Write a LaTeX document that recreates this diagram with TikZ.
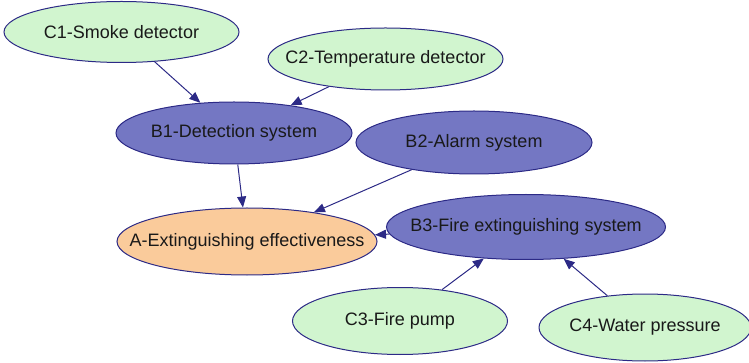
\documentclass[tikz,border=0pt]{standalone}
\usepackage{fontspec}
\setmainfont{Liberation Sans}
\usetikzlibrary{shapes.geometric,arrows.meta}
\definecolor{leafgreen}{HTML}{D1F5CF}
\definecolor{midblue}{HTML}{7477C3}
\definecolor{goalorange}{HTML}{FACB9B}
\definecolor{edgeblue}{HTML}{2C2A86}
\tikzset{
  factor/.style={ellipse, draw=edgeblue, line width=1pt, inner sep=0pt,
    label={[font=\fontsize{18}{20}\selectfont, text=black!90]center:#1}},
  leaf/.style={factor=#1, fill=leafgreen},
  sub/.style={factor=#1, fill=midblue},
  goal/.style={factor=#1, fill=goalorange},
  link/.style={draw=edgeblue, line width=1pt, -{Triangle[length=11pt,width=9pt]}}
}
\begin{document}
\begin{tikzpicture}[x=1pt,y=-1pt]
  \useasboundingbox (0,0) rectangle (749,363);
  \node[leaf={C1-Smoke detector}, minimum width=235, minimum height=61] (c1) at (121.5,32) {};
  \node[leaf={C2-Temperature detector}, minimum width=235, minimum height=62] (c2) at (385.5,59) {};
  \node[sub={B1-Detection system}, minimum width=236, minimum height=62] (b1) at (234,133) {};
  \node[sub={B2-Alarm system}, minimum width=236, minimum height=63] (b2) at (474,142.5) {};
  \node[goal={A-Extinguishing effectiveness}, minimum width=260, minimum height=67] (a) at (247,241.5) {};
  \node[sub={B3-Fire extinguishing system}, minimum width=279, minimum height=65] (b3) at (526,227) {};
  \node[leaf={C3-Fire pump}, minimum width=215, minimum height=67] (c3) at (400,321) {};
  \node[leaf={C4-Water pressure}, minimum width=212, minimum height=67] (c4) at (645,327.5) {};
  \draw[link] (c1) -- (b1);
  \draw[link] (c2) -- (b1);
  \draw[link] (b1) -- (a);
  \draw[link] (b2) -- (a);
  \draw[link] (b3) -- (a);
  \draw[link] (c3) -- (b3);
  \draw[link] (c4) -- (b3);
\end{tikzpicture}
\end{document}
